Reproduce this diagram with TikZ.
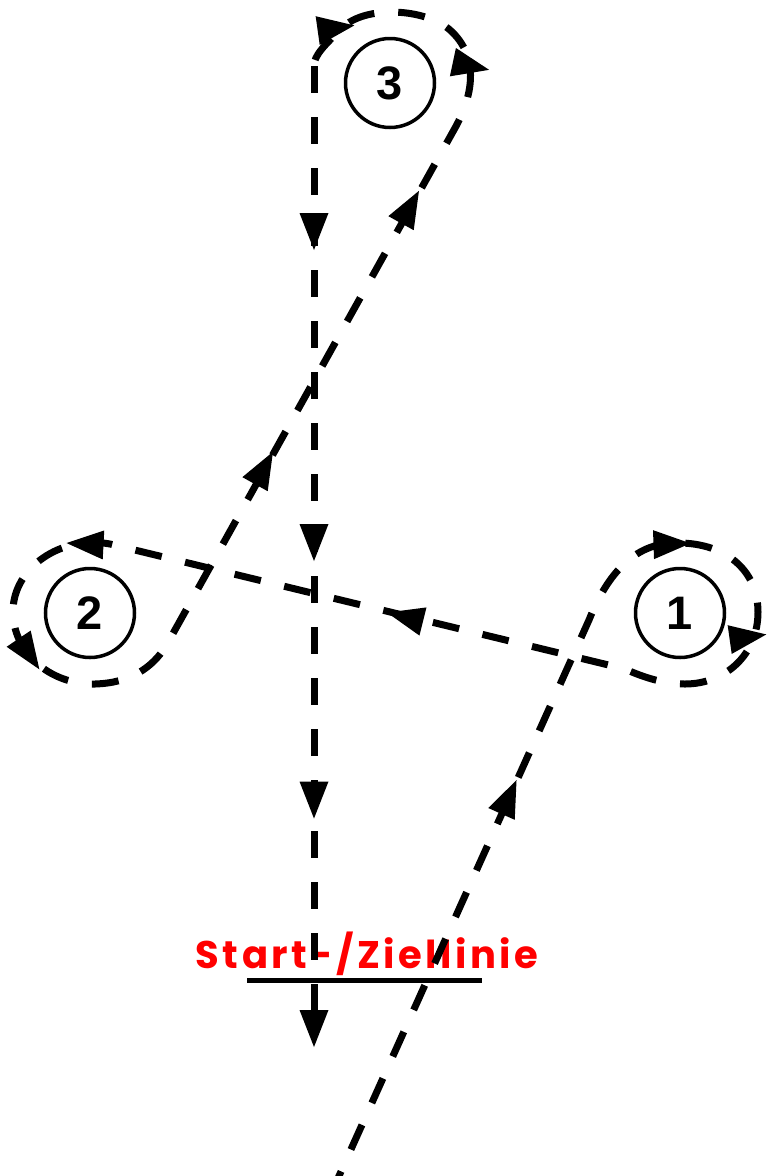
\documentclass[tikz,border=0pt]{standalone}
\usepackage{fontspec}
\newfontfamily\numfont{Liberation Sans}
\newfontfamily\labfont[LetterSpace=9]{Poppins}
\begin{document}
\tikzset{
  route/.style={line width=7pt, dash pattern=on 27pt off 24pt, line cap=butt},
  spot/.style={circle, draw, line width=3.5pt, minimum size=89pt, inner sep=0pt,
    font=\numfont\bfseries\fontsize{47}{47}\selectfont},
  ahead/.pic={\fill (-18.5,-14.5) -- (18.5,0) -- (-18.5,14.5) -- cycle;},
  startline/.style={line width=5pt},
  lab/.style={anchor=base, text=red, inner sep=0pt,
    font=\labfont\bfseries\fontsize{38.5}{38.5}\selectfont}
}
\begin{tikzpicture}[x=1pt,y=-1pt]
\useasboundingbox (0,0) rectangle (767,1176);
\fill[white] (0,0) rectangle (767,1176);

% stations
\node[spot] (c3) at (390,83) {3};
\node[spot] (c2) at (90,613) {2};
\node[spot] (c1) at (680,613) {1};

% label and start/finish line
\node[lab] (lbl) at (367,968) {Start-/Ziellinie};
\coordinate (sl) at (247,980);
\coordinate (sr) at (482,980);
\draw[startline] (sl) -- (sr);

% route coordinates
\coordinate (entry) at (330,1196);
\coordinate (d1) at (589,620);
\coordinate (l1) at (625,669);
\coordinate (l2) at (110,544);
\coordinate (d2) at (166,646);
\coordinate (d3) at (455,128);
\coordinate (vt) at (314,66);
\coordinate (vb) at (314,1012);

% main route
\draw[route] (entry) -- (d1)
  .. controls (605,580) and (630,545) .. (672,543)
  .. controls (725,541) and (758,570) .. (758,612)
  .. controls (758,655) and (725,684) .. (685,684)
  .. controls (665,684) and (645,678) .. (l1)
  -- (l2)
  .. controls (60,535) and (14,568) .. (13,610)
  .. controls (12,652) and (50,685) .. (95,684)
  .. controls (130,683) and (152,668) .. (d2)
  -- (d3)
  .. controls (475,92) and (478,55) .. (450,30)
  .. controls (425,8) and (365,5) .. (342,28)
  .. controls (325,45) and (314,55) .. (vt);
\draw[route] (vt) -- (vb);

% arrowheads
\pic[rotate=-90] at (314,231.5) {ahead};
\pic[rotate=-90] at (314,542.5) {ahead};
\pic[rotate=-90] at (314,800) {ahead};
\pic[rotate=-90] at (314,1028.5) {ahead};
\pic[rotate=66] at (509,797) {ahead};
\pic[rotate=166] at (405,617) {ahead};
\pic[rotate=61] at (264,468) {ahead};
\pic[rotate=61] at (410,207) {ahead};
\pic[rotate=8] at (336,28) {ahead};
\pic[rotate=-12] at (471,66) {ahead};
\pic[rotate=2] at (672,544) {ahead};
\pic[rotate=8] at (748,637) {ahead};
\pic[rotate=177] at (85,544) {ahead};
\pic[rotate=-56] at (29,654) {ahead};
\end{tikzpicture}
\end{document}
